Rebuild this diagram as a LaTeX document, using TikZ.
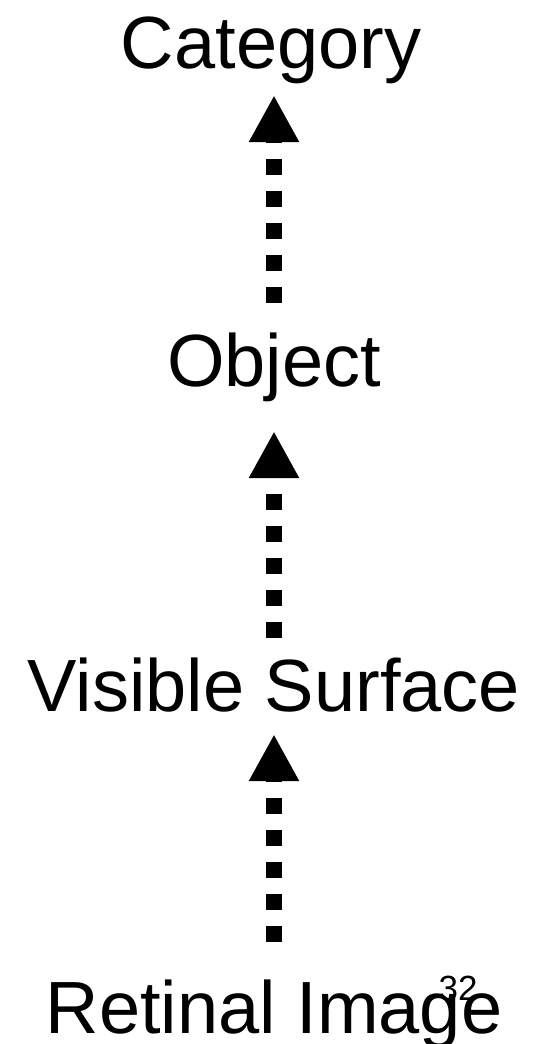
\documentclass[tikz,border=0pt]{standalone}
\usepackage{fontspec}
\setmainfont{Liberation Sans}
\usetikzlibrary{arrows.meta}

\begin{document}
\begin{tikzpicture}[x=1pt,y=-1pt,
    level/.style={anchor=base, inner sep=0pt, text height=54pt, text depth=16pt,
      font=\fontsize{74}{80}\selectfont},
    flow/.style={line width=16pt, dash pattern=on 16pt off 16pt,
      -{Triangle[length=47pt,width=47pt]}}]
  \useasboundingbox (0,0) rectangle (538,1044);

  % Levels
  \node[level] (category) at (271,68) {Category};
  \node[level] (object) at (274,386) {Object};
  \node[level] (surface) at (274,711) {Visible Surface};
  \node[level] (retinal) at (274,1033) {Retinal Image};
  \node[anchor=base, inner sep=0pt, font=\fontsize{35}{40}\selectfont] (pagenum) at (458,1000) {32};

  % Arrows
  \draw[flow, shorten <=29pt, shorten >=11pt] (object.north) -- (object.north |- category.south);
  \draw[flow, shorten <=19pt, shorten >=29pt] (surface.north) -- (object.south);
  \draw[flow, shorten <=37pt, shorten >=7pt] (retinal.north) -- (surface.south);
\end{tikzpicture}
\end{document}
